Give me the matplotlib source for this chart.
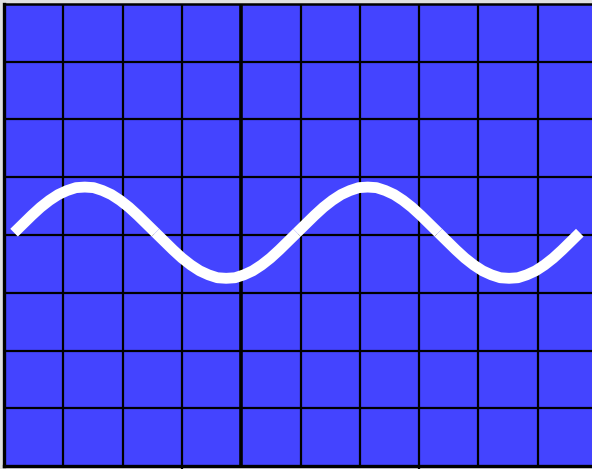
import numpy as np
import matplotlib
matplotlib.use("Agg")
import matplotlib.pyplot as plt

# grid layout (in grid units: 10 columns x 8 rows)
n_cols = 10
n_rows = 8
center_col = 4
tick_cols = [3, 7]

half_up = [4.04, 4.19, 4.34, 4.48, 4.60, 4.70, 4.77, 4.82,
           4.83, 4.82, 4.77, 4.70, 4.60, 4.48, 4.34, 4.19]
half_down = [4.04, 3.89, 3.74, 3.60, 3.48, 3.38, 3.31, 3.26,
             3.25, 3.26, 3.31, 3.38, 3.48, 3.60, 3.74, 3.89]
wave_y = half_up + half_down + half_up + half_down + [4.04]
wave_x = np.linspace(0.17, 9.71, len(wave_y))

W, H = 592, 469
fig = plt.figure(figsize=(W / 100, H / 100), dpi=100, facecolor="#e0e0e0")
# axes box in pixels: left 4, right 597 (runs off the image), top 4, bottom 466
ax = fig.add_axes([4 / W, (H - 466) / H, (597 - 4) / W, (466 - 4) / H])
ax.set_facecolor("#4444ff")
ax.set_xlim(0, n_cols)
ax.set_ylim(0, n_rows)

for c in range(1, n_cols):
    lw = 2.6 if c == center_col else 1.6
    ax.axvline(c, color="black", lw=lw, zorder=1)
for r in range(1, n_rows):
    ax.axhline(r, color="black", lw=1.6, zorder=1)

# four half-wave strokes, drawn separately like the original
for i in range(4):
    seg = slice(i * 16, i * 16 + 17)
    ax.plot(wave_x[seg], wave_y[seg], color="white", lw=7.8,
            solid_capstyle="butt", solid_joinstyle="round", zorder=3)

ax.set_xticks(tick_cols)
ax.set_xticklabels([])
ax.set_yticks([])
ax.tick_params(axis="x", direction="out", length=2.5, width=1.6, color="black")
for side in ["top", "left", "bottom", "right"]:
    ax.spines[side].set_color("black")
ax.spines["top"].set_linewidth(1.8)
ax.spines["left"].set_linewidth(2.4)
ax.spines["bottom"].set_linewidth(2.4)

fig.savefig("out.png", dpi=100, facecolor=fig.get_facecolor())
